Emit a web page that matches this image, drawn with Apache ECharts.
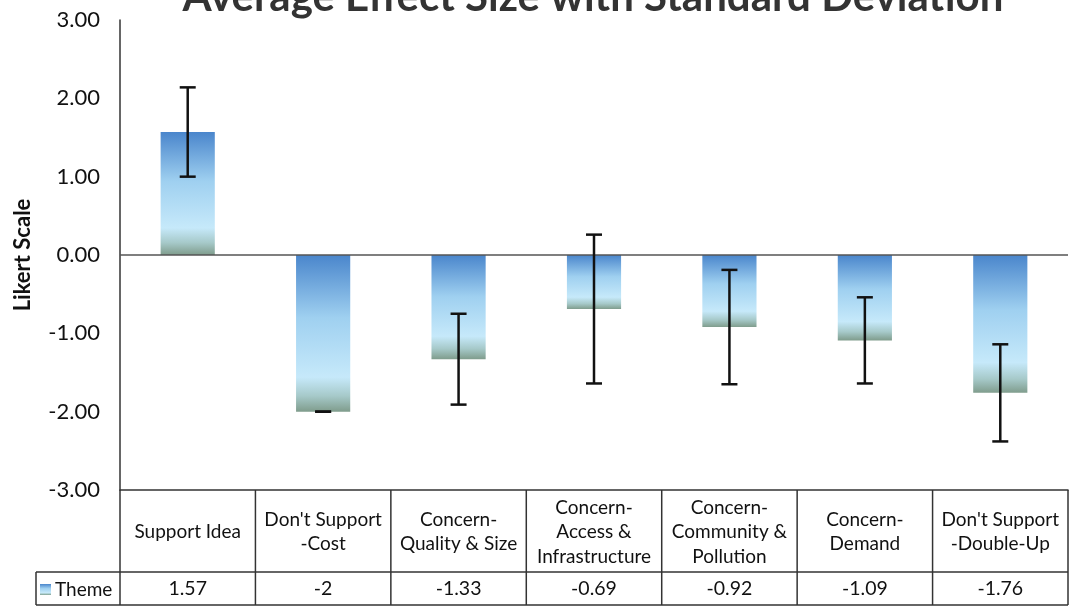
<!DOCTYPE html>
<html>
<head>
<meta charset="utf-8">
<script src="https://cdn.jsdelivr.net/npm/echarts@6/dist/echarts.min.js"></script>
<style>
html,body{margin:0;padding:0;background:#fff;}
#chart{width:1076px;height:615px;}
</style>
</head>
<body>
<div id="chart"></div>
<script>
// ---- data ----
const categories = [
  'Support Idea',
  "Don't Support\n-Cost",
  'Concern-\nQuality & Size',
  'Concern-\nAccess &\nInfrastructure',
  'Concern-\nCommunity &\nPollution',
  'Concern-\nDemand',
  "Don't Support\n-Double-Up"
];
const means = [1.57, -2, -1.33, -0.69, -0.92, -1.09, -1.76];
const stdDevs = [0.57, 0, 0.58, 0.95, 0.73, 0.55, 0.62];
const valueLabels = ['1.57', '-2', '-1.33', '-0.69', '-0.92', '-1.09', '-1.76'];
const seriesName = 'Theme';
const yMin = -3, yMax = 3, yInterval = 1;

const FONT = 'Lato, "Open Sans", sans-serif';
const chart = echarts.init(document.getElementById('chart'));

const barGradient = new echarts.graphic.LinearGradient(0, 0, 0, 1, [
  {offset: 0, color: '#4a86cc'},
  {offset: 0.4, color: '#9fd0f0'},
  {offset: 0.78, color: '#c6e9fa'},
  {offset: 0.9, color: '#a6c9c9'},
  {offset: 1, color: '#7f9c8c'}
]);

const option = {
  backgroundColor: '#fff',
  animation: false,
  title: {
    text: 'Average Effect Size with Standard Deviation',
    left: 588, top: -29, textAlign: 'center',
    textStyle: {fontFamily: FONT, fontSize: 42, fontWeight: 'bold', color: '#333'}
  },
  legend: {
    data: [seriesName],
    left: 40, top: 580, padding: 0,
    icon: 'rect', itemWidth: 11, itemHeight: 11, itemGap: 3,
    textStyle: {fontFamily: FONT, fontSize: 19, color: '#111', padding: [0, 0, 0, -1]},
    selectedMode: false
  },
  grid: {left: 120, right: 8, top: 20, bottom: 125, containLabel: false},
  xAxis: [{
    type: 'category', data: categories, position: 'bottom',
    axisLine: {show: true, onZero: false, lineStyle: {color: '#333', width: 1.5}},
    axisTick: {show: false},
    axisLabel: {interval: 0, margin: 42, verticalAlign: 'middle', lineHeight: 24.5,
      fontFamily: FONT, fontSize: 19, color: '#111', align: 'center'}
  }, {
    type: 'category', data: valueLabels, position: 'bottom',
    axisLine: {show: false}, axisTick: {show: false},
    axisLabel: {interval: 0, margin: 99, verticalAlign: 'middle',
      fontFamily: FONT, fontSize: 19.5, color: '#111'}
  }],
  yAxis: {
    type: 'value', min: yMin, max: yMax, interval: yInterval,
    name: 'Likert Scale', nameLocation: 'middle', nameGap: 86,
    nameTextStyle: {fontFamily: FONT, fontSize: 22, fontWeight: 'bold', color: '#111'},
    axisLine: {show: true, lineStyle: {color: '#333', width: 1.5}},
    axisTick: {show: false},
    splitLine: {show: false},
    axisLabel: {formatter: v => v.toFixed(2), margin: 20,
      fontFamily: FONT, fontSize: 22, color: '#111'}
  },
  series: [{
    name: seriesName, type: 'bar', xAxisIndex: 0,
    data: means, barWidth: '40%',
    itemStyle: {color: barGradient},
    markLine: {
      silent: true, symbol: 'none', label: {show: false},
      lineStyle: {color: '#555', width: 1.5, type: 'solid'},
      data: [{yAxis: 0}]
    }
  }, {
    name: 'sd', type: 'custom', xAxisIndex: 0,
    data: means.map((m, i) => [i, m, stdDevs[i]]),
    encode: {x: 0, y: 1},
    z: 5,
    renderItem: function (params, api) {
      const i = api.value(0), m = api.value(1), s = api.value(2);
      const top = api.coord([i, m + s]);
      const bot = api.coord([i, m - s]);
      const h = 8;
      const st = {stroke: '#111', lineWidth: 2.5};
      return {type: 'group', children: [
        {type: 'line', shape: {x1: top[0], y1: top[1], x2: bot[0], y2: bot[1]}, style: st},
        {type: 'line', shape: {x1: top[0] - h, y1: top[1], x2: top[0] + h, y2: top[1]}, style: st},
        {type: 'line', shape: {x1: bot[0] - h, y1: bot[1], x2: bot[0] + h, y2: bot[1]}, style: st}
      ]};
    }
  }]
};
chart.setOption(option);

// ---- data table borders ----
const c0 = chart.convertToPixel({xAxisIndex: 0}, 0);
const c1 = chart.convertToPixel({xAxisIndex: 0}, 1);
const band = c1 - c0;
const yTop = chart.convertToPixel({yAxisIndex: 0}, yMin);
const yHead = yTop + 82;
const yEnd = yHead + 33;
const xLeft = c0 - band / 2;
const xRight = xLeft + band * categories.length;
const legendLeft = 36;
const ls = {stroke: '#333', lineWidth: 1.5};
const lines = [];
for (let k = 0; k <= categories.length; k++) {
  const x = xLeft + band * k;
  lines.push({type: 'line', shape: {x1: x, y1: yTop, x2: x, y2: yEnd}, style: ls});
}
lines.push({type: 'line', shape: {x1: legendLeft, y1: yHead, x2: xRight, y2: yHead}, style: ls});
lines.push({type: 'line', shape: {x1: legendLeft, y1: yEnd, x2: xRight, y2: yEnd}, style: ls});
lines.push({type: 'line', shape: {x1: legendLeft, y1: yHead, x2: legendLeft, y2: yEnd}, style: ls});
chart.setOption({graphic: lines});
</script>
</body>
</html>
